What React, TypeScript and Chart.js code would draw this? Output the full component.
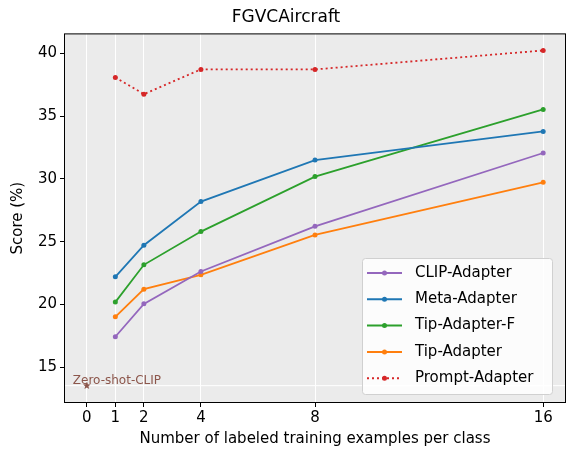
import React, { useEffect, useRef } from "react";
import { Chart, registerables } from "chart.js";
Chart.register(...registerables);

const shots = [1, 2, 4, 8, 16];
const xTicks = [0, 1, 2, 4, 8, 16];
const yTicks = [15, 20, 25, 30, 35, 40];
const clipAdapter = [17.43, 20.05, 22.63, 26.23, 32.07];
const metaAdapter = [22.2, 24.72, 28.2, 31.51, 33.79];
const tipAdapterF = [20.19, 23.16, 25.81, 30.19, 35.54];
const tipAdapter = [19.02, 21.22, 22.36, 25.54, 29.73];
const promptAdapter = [38.09, 36.76, 38.73, 38.73, 40.24];
const zeroShot = 13.53;

const series = [
  { label: "CLIP-Adapter", data: clipAdapter, color: "#9467bd", dash: [] as number[] },
  { label: "Meta-Adapter", data: metaAdapter, color: "#1f77b4", dash: [] as number[] },
  { label: "Tip-Adapter-F", data: tipAdapterF, color: "#2ca02c", dash: [] as number[] },
  { label: "Tip-Adapter", data: tipAdapter, color: "#ff7f0e", dash: [] as number[] },
  { label: "Prompt-Adapter", data: promptAdapter, color: "#d62728", dash: [2, 3] },
];

const FONT = "'DejaVu Sans', sans-serif";

export default function App() {
  const ref = useRef<HTMLCanvasElement>(null);
  useEffect(() => {
    document.body.style.margin = "0";
    const bg = {
      id: "bg",
      beforeDraw(c: any) {
        const a = c.chartArea, ctx = c.ctx;
        ctx.save();
        ctx.fillStyle = "#ebebeb";
        ctx.fillRect(a.left, a.top, a.right - a.left, a.bottom - a.top);
        ctx.restore();
      },
      afterDatasetsDraw(c: any) {
        const ctx = c.ctx, x = c.scales.x, y = c.scales.y, a = c.chartArea;
        ctx.save();
        ctx.strokeStyle = "#000"; ctx.lineWidth = 1;
        ctx.strokeRect(a.left + 0.5, a.top + 0.5, a.right - a.left - 1, a.bottom - a.top - 1);
        const px = x.getPixelForValue(0), py = y.getPixelForValue(zeroShot);
        ctx.fillStyle = "#8c564b";
        ctx.beginPath();
        for (let i = 0; i < 10; i++) {
          const r = i % 2 === 0 ? 4 : 1.7;
          const ang = -Math.PI / 2 + (i * Math.PI) / 5;
          const xx = px + r * Math.cos(ang), yy = py + r * Math.sin(ang);
          i === 0 ? ctx.moveTo(xx, yy) : ctx.lineTo(xx, yy);
        }
        ctx.closePath(); ctx.fill();
        ctx.font = `12px ${FONT}`;
        ctx.textBaseline = "middle";
        ctx.fillText("Zero-shot-CLIP", px - 14, py - 5);
        const lx = 362, ly = 258, lw = 190, lh = 136;
        ctx.fillStyle = "rgba(255,255,255,0.85)";
        ctx.strokeStyle = "#d0d0d0";
        ctx.beginPath();
        (ctx as any).roundRect(lx + 0.5, ly + 0.5, lw, lh, 3);
        ctx.fill(); ctx.stroke();
        series.forEach((s, i) => {
          const ry = 273 + i * 26.3;
          ctx.strokeStyle = s.color; ctx.lineWidth = 2;
          ctx.setLineDash(s.dash);
          ctx.beginPath(); ctx.moveTo(367, ry); ctx.lineTo(402, ry); ctx.stroke();
          ctx.setLineDash([]);
          ctx.fillStyle = s.color;
          ctx.beginPath(); ctx.arc(384.5, ry, 2.5, 0, Math.PI * 2); ctx.fill();
          ctx.fillStyle = "#000";
          ctx.font = `15px ${FONT}`;
          ctx.fillText(s.label, 415, ry);
        });
        ctx.restore();
      },
    };
    const chart = new Chart(ref.current!, {
      type: "line",
      data: {
        datasets: [
          {
            label: "zs",
            data: [{ x: -0.8, y: zeroShot }, { x: 16.8, y: zeroShot }],
            borderColor: "#ffffff", borderWidth: 1, pointRadius: 0,
          } as any,
          ...series.map((s) => ({
            label: s.label,
            data: s.data.map((v, i) => ({ x: shots[i], y: v })),
            borderColor: s.color, backgroundColor: s.color,
            borderWidth: 1.8, borderDash: s.dash,
            pointRadius: 2.5, pointBorderWidth: 0, pointBackgroundColor: s.color,
          })),
        ],
      },
      options: {
        responsive: false, animation: false,
        layout: { padding: { left: 5, right: 3, top: 0, bottom: 12 } },
        plugins: {
          legend: { display: false }, tooltip: { enabled: false },
          title: { display: true, text: "FGVCAircraft", color: "#000", font: { family: FONT, size: 17, weight: "normal" }, padding: { top: 7, bottom: 6 } },
        },
        scales: {
          x: {
            type: "linear", min: -0.8, max: 16.8,
            afterBuildTicks: (s: any) => { s.ticks = xTicks.map((v) => ({ value: v })); },
            afterFit: (s: any) => { s.height = 49; },
            grid: { color: "#ffffff", lineWidth: 1, drawTicks: true, tickColor: "#000", tickLength: 4 },
            border: { display: false },
            ticks: { color: "#000", font: { family: FONT, size: 15 }, padding: 2, autoSkip: false, maxRotation: 0 },
            title: { display: true, text: "Number of labeled training examples per class", color: "#000", font: { family: FONT, size: 15 }, padding: { top: 2 } },
          },
          y: {
            min: 12.15, max: 41.6,
            afterBuildTicks: (s: any) => { s.ticks = yTicks.map((v) => ({ value: v })); },
            afterFit: (s: any) => { s.width = 59; },
            grid: { display: true, drawOnChartArea: false, tickColor: "#000", tickLength: 4 },
            border: { display: false },
            ticks: { color: "#000", font: { family: FONT, size: 15 }, padding: 3 },
            title: { display: true, text: "Score (%)", color: "#000", font: { family: FONT, size: 15 }, padding: { bottom: 2 } },
          },
        },
      },
      plugins: [bg],
    } as any);
    return () => chart.destroy();
  }, []);
  return <canvas ref={ref} width={570} height={464} style={{ display: "block" }} />;
}
